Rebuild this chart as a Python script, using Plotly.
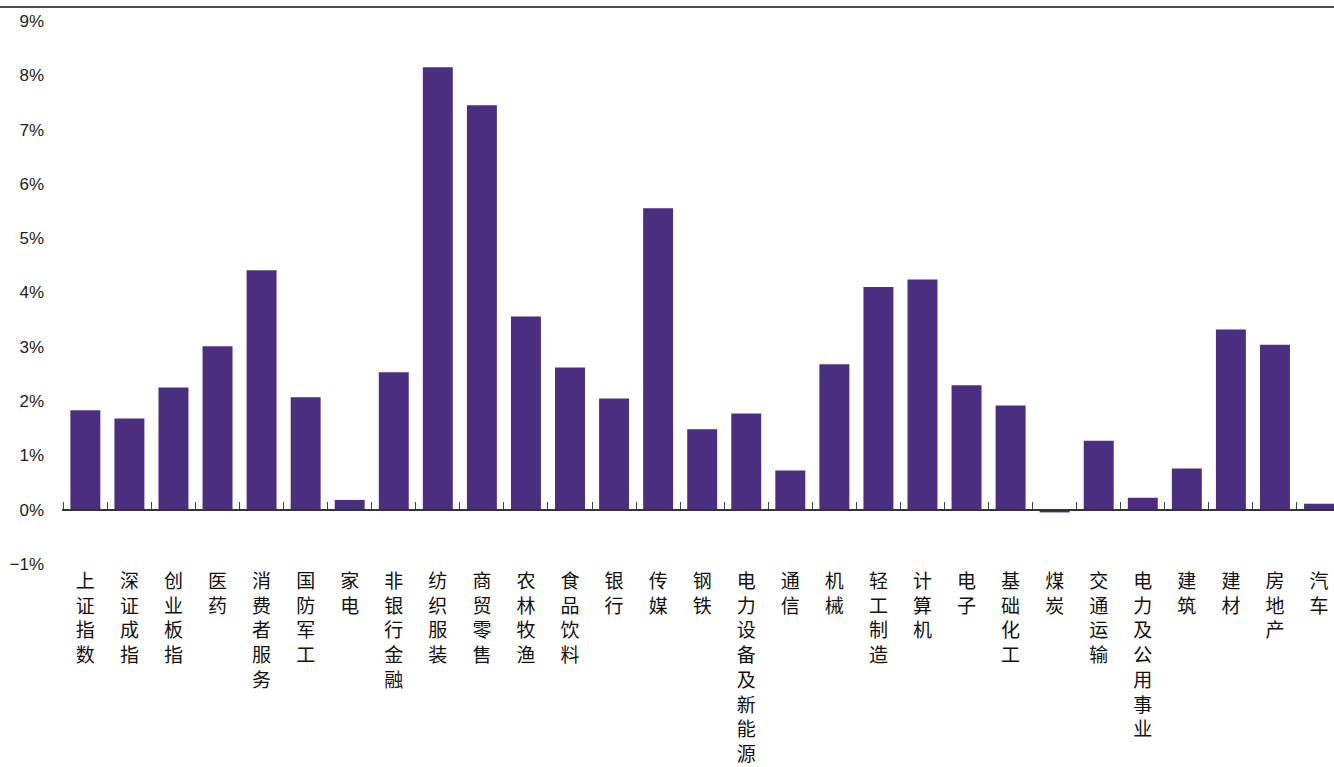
import plotly.graph_objects as go

categories = ["上证指数", "深证成指", "创业板指", "医药", "消费者服务", "国防军工", "家电",
              "非银行金融", "纺织服装", "商贸零售", "农林牧渔", "食品饮料", "银行", "传媒",
              "钢铁", "电力设备及新能源", "通信", "机械", "轻工制造", "计算机", "电子",
              "基础化工", "煤炭", "交通运输", "电力及公用事业", "建筑", "建材", "房地产", "汽车"]
values = [1.83, 1.68, 2.25, 3.01, 4.41, 2.07, 0.18,
          2.53, 8.15, 7.45, 3.56, 2.62, 2.05, 5.55,
          1.48, 1.77, 0.72, 2.68, 4.10, 4.24, 2.29,
          1.92, -0.05, 1.27, 0.22, 0.76, 3.32, 3.04, 0.11]
y_ticks = [-1, 0, 1, 2, 3, 4, 5, 6, 7, 8, 9]
y_tick_text = ["−1%", "0%", "1%", "2%", "3%", "4%", "5%", "6%", "7%", "8%", "9%"]

labels = ["<br>".join(list(c)) for c in categories]
bar_color = "#4B2E80"

fig = go.Figure()
fig.add_trace(go.Bar(x=labels, y=values, marker=dict(color=bar_color, line=dict(width=0)),
                     hoverinfo="x+y"))
fig.add_trace(go.Scatter(x=labels, y=[0] * len(labels), xaxis="x2", mode="markers",
                         marker=dict(size=1, opacity=0),
                         showlegend=False, hoverinfo="skip"))

fig.update_layout(
    width=1334, height=767,
    margin=dict(l=62, r=0, t=21, b=203),
    plot_bgcolor="white", paper_bgcolor="white",
    showlegend=False,
    bargap=0.32,
    xaxis=dict(type="category", range=[-0.53, 28.34], showline=False, ticks="",
               showgrid=False, zeroline=False,
               tickfont=dict(family="Noto Sans CJK SC", size=19, color="#111"),
               tickangle=0, ticklabelstandoff=4),
    xaxis2=dict(type="category", overlaying="x", matches="x", anchor="free", position=0.1,
                showline=True, linecolor="#333", linewidth=1.5,
                ticks="inside", tickson="boundaries", ticklen=7, tickcolor="#444", tickwidth=1.3,
                showticklabels=False, showgrid=False, zeroline=False),
    yaxis=dict(range=[-1, 9], tickvals=y_ticks, ticktext=y_tick_text, showgrid=False,
               zeroline=False, showline=False, ticks="",
               tickfont=dict(family="Liberation Sans, Arial", size=17, color="#222"),
               ticklabelstandoff=17),
    shapes=[dict(type="line", xref="paper", yref="paper", x0=-62 / 1272, x1=1.0,
                 y0=1.0258, y1=1.0258, line=dict(color="#111", width=1.5))],
)

fig.write_html("out.html")
